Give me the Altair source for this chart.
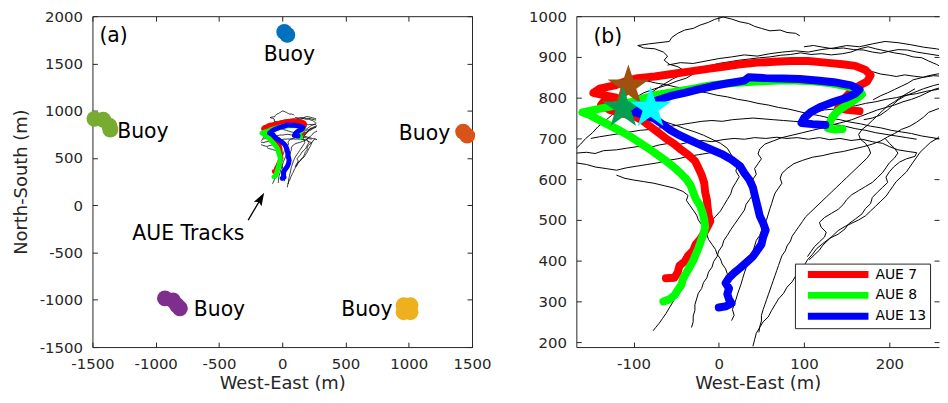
import altair as alt
import pandas as pd

FONT = "DejaVu Sans"
INK = "#262626"

# ---------------- data (metres) ----------------
AUE_NAMES = ["AUE 7", "AUE 8", "AUE 13"]
AUE_COLORS = ["#ff0000", "#00ff00", "#0000ff"]

AUE7 = [(-62, 357), (-52, 358), (-48, 372), (-46, 388), (-40, 398), (-36, 412), (-30, 425), (-27, 440),
        (-22, 452), (-18, 465), (-14, 480), (-10, 497), (-12, 512), (-13, 530), (-14, 550), (-16, 568),
        (-17, 590), (-20, 610), (-24, 628), (-28, 645), (-36, 660), (-44, 672), (-52, 686), (-62, 700),
        (-72, 716), (-82, 732), (-90, 745), (-100, 755), (-115, 762), (-128, 770), (-138, 782), (-135, 790),
        (-120, 800), (-135, 806), (-147, 812), (-140, 822), (-122, 830), (-110, 840), (-95, 848), (-75, 852),
        (-55, 858), (-35, 864), (-15, 870), (5, 876), (25, 882), (45, 886), (65, 888), (85, 890), (105, 890),
        (125, 886), (145, 882), (160, 878), (172, 868), (178, 855), (174, 840), (165, 830), (155, 815),
        (148, 800), (142, 785), (140, 775), (150, 770), (165, 767)]

AUE8 = [(-65, 300), (-58, 305), (-52, 315), (-48, 328), (-44, 340), (-42, 355), (-38, 370), (-34, 385),
        (-30, 400), (-27, 415), (-24, 430), (-21, 448), (-18, 465), (-16, 482), (-17, 500), (-19, 518),
        (-22, 535), (-27, 552), (-30, 568), (-33, 585), (-38, 600), (-45, 615), (-53, 630), (-62, 645),
        (-72, 660), (-82, 675), (-93, 690), (-104, 705), (-115, 718), (-128, 732), (-140, 745), (-152, 758),
        (-160, 764), (-150, 768), (-135, 775), (-118, 782), (-102, 790), (-85, 800), (-70, 808), (-50, 815),
        (-30, 822), (-10, 830), (10, 835), (30, 838), (50, 840), (70, 842), (90, 842), (110, 840),
        (130, 836), (150, 828), (165, 818), (168, 808), (160, 795), (150, 782), (140, 768), (133, 752),
        (130, 738), (128, 725), (136, 722), (145, 723)]

AUE13 = [(0, 285), (8, 288), (15, 295), (12, 305), (10, 318), (12, 332), (8, 345), (12, 358), (18, 370),
         (25, 382), (32, 395), (40, 410), (45, 425), (50, 440), (52, 458), (55, 475), (52, 492), (48, 510),
         (46, 528), (44, 545), (42, 562), (40, 580), (36, 598), (30, 615), (25, 632), (15, 648), (5, 660),
         (-8, 672), (-22, 685), (-35, 697), (-48, 710), (-58, 722), (-66, 735), (-75, 748), (-88, 758),
         (-100, 765), (-90, 772), (-82, 785), (-70, 795), (-55, 805), (-40, 812), (-25, 820), (-8, 828),
         (10, 835), (30, 842), (35, 850), (55, 848), (75, 847), (95, 846), (115, 842), (135, 838),
         (155, 830), (165, 820), (160, 810), (150, 800), (135, 790), (120, 778), (108, 765), (100, 750),
         (97, 738), (110, 735), (125, 733)]

DRIFTER_1 = [(95, 952), (90, 958), (80, 960), (72, 966), (60, 964), (50, 970), (42, 975), (35, 982), (25, 986),
             (15, 993), (5, 998), (-5, 992), (-12, 985), (-22, 978), (-30, 970), (-40, 966), (-48, 958),
             (-55, 948), (-58, 938), (-70, 935), (-82, 932), (-95, 928), (-88, 922), (-75, 920), (-65, 912),
             (-60, 902), (-64, 892), (-58, 882), (-48, 876), (-40, 866), (-30, 858), (-38, 848), (-50, 840),
             (-62, 830), (-75, 822), (-88, 812), (-98, 800), (-108, 788), (-118, 772), (-126, 756),
             (-134, 742), (-142, 728), (-148, 714), (-156, 700), (-162, 686), (-167, 676)]
DRIFTER_2 = [(-167, 664), (-155, 666), (-145, 663), (-135, 670), (-120, 672), (-108, 676), (-95, 680), (-82, 677),
             (-70, 684), (-58, 688), (-45, 686), (-32, 692), (-20, 695), (-8, 692), (5, 697), (18, 700),
             (30, 698), (42, 702), (55, 700), (68, 703), (80, 700), (92, 702), (105, 698), (118, 702),
             (130, 697), (142, 700), (155, 695), (168, 698), (180, 692), (192, 688), (200, 680), (210, 672),
             (222, 668), (232, 665), (230, 656), (220, 650), (212, 642), (205, 630), (200, 618), (196, 605),
             (198, 592), (192, 580), (186, 568), (180, 555), (178, 540), (172, 528), (168, 515), (160, 502),
             (152, 490), (148, 478), (140, 465), (130, 455), (122, 442), (115, 430), (110, 416), (104, 402),
             (100, 388), (95, 375), (90, 362), (86, 348), (80, 335), (76, 320), (70, 306), (66, 292),
             (62, 278), (58, 262), (52, 250), (48, 236), (44, 222), (42, 206), (40, 190)]
DRIFTER_3 = [(270, 868), (262, 874), (255, 882), (246, 890), (238, 898), (228, 900), (218, 906), (206, 910),
             (195, 915), (184, 920), (175, 925), (165, 920), (155, 912), (145, 908), (132, 905), (120, 908),
             (108, 906), (96, 910), (84, 906), (72, 904), (60, 900), (48, 898), (36, 895), (24, 892),
             (12, 888), (0, 884), (-12, 878), (-24, 872), (-34, 864), (-44, 856), (-54, 846), (-62, 836),
             (-70, 826), (-78, 814), (-86, 802), (-92, 790), (-96, 778), (-92, 766), (-84, 756), (-74, 748),
             (-62, 740), (-50, 732), (-40, 724), (-28, 716), (-18, 708), (-8, 698), (2, 688), (10, 676),
             (14, 662), (18, 648), (22, 634), (20, 620), (24, 606), (20, 592), (16, 578), (14, 564), (10, 550),
             (6, 536), (2, 522), (-4, 508), (-10, 494), (-14, 480), (-16, 466), (-20, 452), (-22, 438),
             (-26, 424), (-28, 410), (-32, 396), (-34, 382), (-38, 368), (-40, 354), (-44, 340), (-46, 326),
             (-50, 312), (-54, 298), (-58, 284), (-62, 270), (-66, 258), (-70, 246), (-74, 236), (-77, 228)]
DRIFTER_4 = [(270, 832), (262, 826), (252, 820), (244, 812), (236, 804), (226, 796), (216, 790), (206, 782),
             (196, 776), (186, 770), (176, 762), (166, 754), (156, 746), (146, 740), (134, 734), (122, 726),
             (110, 720), (98, 714), (86, 708), (74, 702), (64, 694), (54, 686), (48, 674), (46, 662),
             (50, 650), (46, 638), (42, 626), (44, 612), (40, 600), (42, 588), (38, 576), (40, 562), (36, 550),
             (32, 538), (30, 524), (26, 512), (22, 500), (18, 488), (14, 476), (10, 462), (6, 450), (4, 436),
             (0, 424), (-2, 410), (-6, 398), (-8, 384), (-12, 372), (-14, 358), (-18, 346), (-20, 332),
             (-24, 320), (-26, 306), (-28, 292), (-28, 278), (-30, 264), (-30, 250), (-32, 236)]
DRIFTER_5 = [(275, 785), (266, 778), (256, 772), (246, 764), (240, 752), (232, 740), (224, 730), (214, 722),
             (206, 712), (198, 704), (190, 694), (180, 686), (170, 680), (158, 674), (146, 668), (134, 664),
             (122, 658), (110, 654), (98, 646), (88, 638), (80, 626), (74, 614), (72, 602), (74, 590),
             (70, 578), (66, 566), (64, 554), (62, 540), (60, 528), (58, 514), (56, 500), (52, 488), (50, 474),
             (48, 462), (44, 450), (42, 436), (40, 422), (36, 410), (34, 396), (32, 382), (30, 370), (28, 356),
             (26, 342), (24, 330), (22, 318), (20, 304), (18, 292), (16, 280), (18, 266), (15, 253)]
DRIFTER_6 = [(230, 822), (222, 812), (214, 802), (206, 790), (198, 780), (192, 768), (186, 756), (180, 744),
             (174, 732), (168, 722), (164, 710), (166, 698), (172, 688), (176, 676), (178, 664), (174, 652),
             (168, 640), (162, 628), (156, 616), (150, 604), (144, 592), (138, 580), (132, 568), (126, 556),
             (120, 544), (114, 532), (108, 520), (102, 508), (98, 496), (94, 484), (90, 472), (86, 460),
             (84, 448), (80, 436), (78, 424), (74, 412), (72, 400), (70, 388), (68, 376), (66, 364), (64, 352),
             (62, 340), (60, 328), (58, 316), (56, 304), (54, 292), (52, 280), (50, 266), (50, 252), (48, 238),
             (47, 224)]
DRIFTER_7 = [(262, 712), (256, 700), (248, 690), (242, 678), (236, 666), (232, 654), (228, 642), (224, 630),
             (220, 618), (214, 606), (208, 594), (204, 582), (200, 570), (196, 558), (190, 546), (184, 534),
             (178, 522), (172, 510), (164, 500), (156, 492), (148, 484), (140, 474), (134, 462), (128, 450),
             (122, 438), (118, 426), (112, 414), (106, 402)]
DRIFTER_8 = [(195, 700), (200, 688), (206, 676), (210, 664), (206, 652), (200, 640), (196, 628), (192, 616),
             (186, 604), (180, 592), (172, 582), (164, 572), (156, 562), (150, 550), (146, 538), (140, 526),
             (132, 516), (124, 506), (118, 494), (120, 482), (126, 470), (124, 458), (118, 446), (112, 434),
             (108, 422), (104, 410)]
DRIFTER_9 = [(-110, 852), (-98, 846), (-86, 842), (-74, 836), (-62, 832), (-50, 826), (-38, 822), (-26, 816),
             (-14, 812), (-2, 806), (10, 802), (22, 796), (34, 792), (46, 786), (58, 782), (70, 776), (82, 772),
             (94, 766), (106, 760), (118, 756), (130, 750), (142, 746), (154, 740), (166, 736), (178, 730),
             (190, 726), (202, 720), (214, 716), (226, 712), (238, 706), (250, 702), (262, 698), (275, 694)]
DRIFTER_10 = [(-150, 700), (-140, 704), (-128, 708), (-116, 712), (-104, 716), (-92, 720), (-80, 722), (-68, 726),
              (-56, 730), (-44, 734), (-32, 738), (-20, 742), (-8, 744), (4, 742), (16, 746), (28, 748), (40, 750),
              (52, 748), (64, 746), (76, 744), (88, 742), (100, 740), (112, 738), (124, 736), (136, 734),
              (148, 730), (160, 724), (172, 720), (184, 714), (196, 710), (208, 706), (220, 702), (232, 698)]
DRIFTER_11 = [(-120, 610), (-110, 602), (-100, 598), (-88, 594), (-76, 590), (-64, 584), (-52, 578), (-42, 570),
              (-36, 560), (-38, 548), (-34, 536), (-30, 524), (-26, 512), (-24, 500), (-20, 488), (-18, 476),
              (-14, 464), (-12, 452), (-8, 440), (-4, 428), (-2, 416), (2, 404), (4, 392), (8, 380), (10, 368),
              (14, 356)]
DRIFTER_12 = [(275, 842), (264, 836), (252, 830), (240, 822), (228, 812), (218, 804), (210, 794), (204, 782),
              (198, 770), (190, 758), (180, 750), (170, 746)]
DRIFTER_13 = [(-60, 880), (-45, 886), (-30, 884), (-15, 890), (0, 896), (15, 900), (30, 905), (45, 902), (60, 908),
              (75, 912), (90, 915), (105, 912), (120, 918), (135, 922), (150, 928), (165, 925), (180, 932),
              (195, 938), (210, 935), (225, 930), (240, 924), (255, 920), (268, 914)]
DRIFTER_14 = [(100, 760), (112, 764), (124, 770), (136, 772), (148, 778), (160, 780), (172, 786), (184, 790),
              (196, 796), (208, 800), (220, 806), (232, 810), (244, 816), (256, 820), (268, 826)]
DRIFTER_15 = [(-167, 640), (-155, 636), (-145, 630), (-132, 626), (-120, 622), (-108, 628), (-96, 632),
              (-84, 636), (-72, 640), (-60, 646), (-48, 650), (-36, 656), (-24, 660), (-12, 664), (0, 668)]
DRIFTER_16 = [(100, 925), (111, 928), (122, 924), (134, 920), (146, 922), (158, 918), (170, 917), (180, 912),
              (190, 909), (200, 914), (210, 918), (221, 917), (232, 912), (244, 908), (256, 904), (268, 901)]
DRIFTER_17 = [(150, 876), (160, 872), (170, 868), (180, 864), (190, 858), (200, 855), (208, 852), (218, 856),
              (228, 853), (240, 850), (252, 854), (266, 852)]
DRIFTER_18 = [(181, 795), (190, 805), (198, 812), (206, 820), (214, 828), (222, 836), (228, 844), (236, 848),
              (246, 854), (256, 858), (266, 860)]
DRIFTERS = [DRIFTER_1, DRIFTER_2, DRIFTER_3, DRIFTER_4, DRIFTER_5, DRIFTER_6, DRIFTER_7, DRIFTER_8,
            DRIFTER_9, DRIFTER_10, DRIFTER_11, DRIFTER_12, DRIFTER_13, DRIFTER_14, DRIFTER_15,
            DRIFTER_16, DRIFTER_17, DRIFTER_18]

# start positions (stars, panel b)
START_X = [-106, -112, -80]
START_Y = [828, 774, 774]
START_COLORS = ["#a0500f", "#00a050", "#00ffff"]

# moored buoys (panel a) - spots of each position cloud
BUOY_X = [16, 40, -1484, -1414, -1366, -1359, 1430, 1462, -927, -864, -809, -832, 959, 1014, 959, 1014]
BUOY_Y = [1833, 1802, 914, 904, 841, 800, 779, 737, -985, -1006, -1090, -1058, -1058, -1058, -1131, -1131]
BUOY_KEY = ["N", "N", "W", "W", "W", "W", "E", "E", "SW", "SW", "SW", "SW", "SE", "SE", "SE", "SE"]
BUOY_COLORS = {"N": "#0072bd", "W": "#77ac30", "E": "#d95319", "SW": "#7e2f8e", "SE": "#edb120"}

# annotations, panel a
LABEL_TEXT_A = ["Buoy", "Buoy", "Buoy", "Buoy", "Buoy", "AUE Tracks", "(a)"]
LABEL_X_A = [56, -1304, 1328, -699, 872, -742, -1445]
LABEL_Y_A = [1585, 779, 758, -1111, -1111, -307, 1791]
LABEL_ALIGN_A = ["center", "left", "right", "left", "right", "center", "left"]
ARROW_TAIL = (-269, -158)
ARROW_TIP = (-143, 131)

# annotations, panel b
LABEL_TEXT_B = ["(b)"]
LABEL_X_B = [-147]
LABEL_Y_B = [948]

# ---------------- tables ----------------
def track_frame(names, tracks):
    rows = []
    for name, pts in zip(names, tracks):
        for i, (x, y) in enumerate(pts):
            rows.append({"track": name, "i": i, "x": x, "y": y})
    return pd.DataFrame(rows)

aue_df = track_frame(AUE_NAMES, [AUE7, AUE8, AUE13])
drift_df = track_frame([f"D{k + 1}" for k in range(len(DRIFTERS))], DRIFTERS)
star_df = pd.DataFrame({"x": START_X, "y": START_Y, "c": START_COLORS})
buoy_df = pd.DataFrame({"x": BUOY_X, "y": BUOY_Y, "c": [BUOY_COLORS[k] for k in BUOY_KEY]})
lab_a = pd.DataFrame({"x": LABEL_X_A, "y": LABEL_Y_A, "text": LABEL_TEXT_A, "align": LABEL_ALIGN_A})
lab_b = pd.DataFrame({"x": LABEL_X_B, "y": LABEL_Y_B, "text": LABEL_TEXT_B})

# arrow: shaft to the base of the head, head centred just behind the tip
head_back = (-27, -62)
arrow_df = pd.DataFrame({"x": [ARROW_TAIL[0]], "y": [ARROW_TAIL[1]],
                         "x2": [ARROW_TIP[0] + head_back[0] * 1.4], "y2": [ARROW_TIP[1] + head_back[1] * 1.4]})
head_df = pd.DataFrame({"x": [ARROW_TIP[0] + head_back[0]], "y": [ARROW_TIP[1] + head_back[1]]})

STAR = ("M0,-1L0.225,-0.309L0.951,-0.309L0.363,0.118L0.588,0.809L0,0.382"
        "L-0.588,0.809L-0.363,0.118L-0.951,-0.309L-0.225,-0.309Z")
HEAD = "M0,-1L0.65,0.9L0,0.55L-0.65,0.9Z"
# legend swatch: three close parallel strokes forming one thick band
SWATCH = "M-61,-4H61M-61,0H61M-61,4H61"
NEG = "datum.value < 0 ? '-' + abs(datum.value) : '' + datum.value"


def panel(W, H, xdom, ydom, xticks, yticks, ytitle, drift_w, aue_w, legend, extra, right_frame):
    xs = alt.Scale(domain=xdom, nice=False, zero=False)
    ys = alt.Scale(domain=ydom, nice=False, zero=False)

    def X(axis=None):
        return alt.X("x:Q", scale=xs, axis=axis)

    def Y(axis=None):
        return alt.Y("y:Q", scale=ys, axis=axis)

    ax_x = alt.Axis(orient="bottom", values=xticks, labelExpr=NEG, labelFlush=False, labelOverlap=False,
                    ticks=False, tickSize=0, domain=True, grid=False, labelPadding=10,
                    title="West-East (m)", titlePadding=3)
    ax_y_kw = dict(orient="left", values=yticks, labelExpr=NEG, labelOverlap=False, ticks=False,
                   tickSize=0, domain=True, grid=False, labelPadding=10, titlePadding=9)
    ax_y = alt.Axis(title=ytitle, **ax_y_kw) if ytitle else alt.Axis(title=None, **ax_y_kw)

    def tick_axis(orient, offset, values, frame):
        return alt.Axis(orient=orient, offset=offset, values=values, labels=False, ticks=True, tickSize=5,
                        domain=frame, grid=False, title=None, tickColor=INK)

    drift = alt.Chart(drift_df).mark_line(color="black", strokeWidth=drift_w, clip=True).encode(
        x=X(ax_x), y=Y(ax_y), detail="track:N", order="i:Q")
    aue = alt.Chart(aue_df).mark_line(strokeWidth=aue_w, strokeCap="round", strokeJoin="round",
                                       clip=True).encode(
        x=X(), y=Y(),
        color=alt.Color("track:N", scale=alt.Scale(domain=AUE_NAMES, range=AUE_COLORS), legend=legend,
                        sort=AUE_NAMES),
        order="i:Q")
    mid = pd.DataFrame({"x": [(xdom[0] + xdom[1]) / 2], "y": [(ydom[0] + ydom[1]) / 2]})
    # inward ticks: bottom & left edges
    ticks_a = alt.Chart(mid).mark_point(opacity=0).encode(
        x=X(tick_axis("top", -H, xticks, False)), y=Y(tick_axis("right", -W, yticks, False)))
    # inward ticks + frame: top & right edges
    ticks_b = alt.Chart(mid).mark_point(opacity=0).encode(
        x=X(tick_axis("bottom", -H, xticks, True)), y=Y(tick_axis("left", -W, yticks, right_frame)))
    layers = [drift, aue] + [e(X, Y) for e in extra] + [ticks_a, ticks_b]
    return alt.layer(*layers).resolve_axis(x="independent", y="independent").properties(width=W, height=H)


def buoys(X, Y):
    return alt.Chart(buoy_df).mark_circle(size=256, opacity=1).encode(
        x=X(), y=Y(), fill=alt.Fill("c:N", scale=None))


def labels_a(X, Y):
    out = []
    for al in ["left", "center", "right"]:
        out.append(alt.Chart(lab_a[lab_a["align"] == al]).mark_text(
            font=FONT, fontSize=20.5, align=al, baseline="middle", color="black").encode(
            x=X(), y=Y(), text="text:N"))
    return alt.layer(*out)


def arrow(X, Y):
    shaft = alt.Chart(arrow_df).mark_rule(color="black", strokeWidth=1.3).encode(
        x=X(), y=Y(), x2="x2:Q", y2="y2:Q")
    head = alt.Chart(head_df).mark_point(shape=HEAD, filled=True, color="black", size=190, angle=30,
                                         opacity=1, strokeWidth=0).encode(x=X(), y=Y())
    return shaft + head


def stars(X, Y):
    return alt.Chart(star_df).mark_point(shape=STAR, filled=True, size=1936, opacity=1, strokeWidth=0).encode(
        x=X(), y=Y(), fill=alt.Fill("c:N", scale=None))


def labels_b(X, Y):
    return alt.Chart(lab_b).mark_text(font=FONT, fontSize=20.5, align="left", baseline="middle",
                                      color="black").encode(x=X(), y=Y(), text="text:N")


legend_b = alt.Legend(title=None, orient="none", legendX=220, legendY=249,
                      symbolType=SWATCH, symbolSize=1, symbolStrokeWidth=3,
                      symbolOffset=32.5, labelOffset=30.5, labelFont=FONT, labelFontSize=14,
                      labelColor="black", padding=4, rowPadding=5, strokeColor=INK,
                      fillColor="white", cornerRadius=0)

left = panel(382, 333, [-1500, 1500], [-1500, 2000],
             [-1500, -1000, -500, 0, 500, 1000, 1500],
             [-1500, -1000, -500, 0, 500, 1000, 1500, 2000],
             "North-South (m)", 0.8, 5, None, [buoys, arrow, labels_a], True)
right = panel(365, 333, [-167, 258.2], [188, 1000],
              [-100, 0, 100, 200],
              [200, 300, 400, 500, 600, 700, 800, 900, 1000],
              None, 1.0, 8, legend_b, [stars, labels_b], False)

chart = alt.hconcat(left, right, spacing=36).resolve_scale(color="independent").properties(
    padding={"left": 4, "top": 0, "right": 0, "bottom": 0}
).configure_view(strokeWidth=0).configure_axis(
    labelFont=FONT, titleFont=FONT, labelFontSize=15, titleFontSize=18, titleFontWeight="normal",
    labelColor=INK, titleColor=INK, tickColor=INK, domainColor=INK, domainWidth=1
)

chart.save("out.html", embed_options={"renderer": "svg", "actions": False})
